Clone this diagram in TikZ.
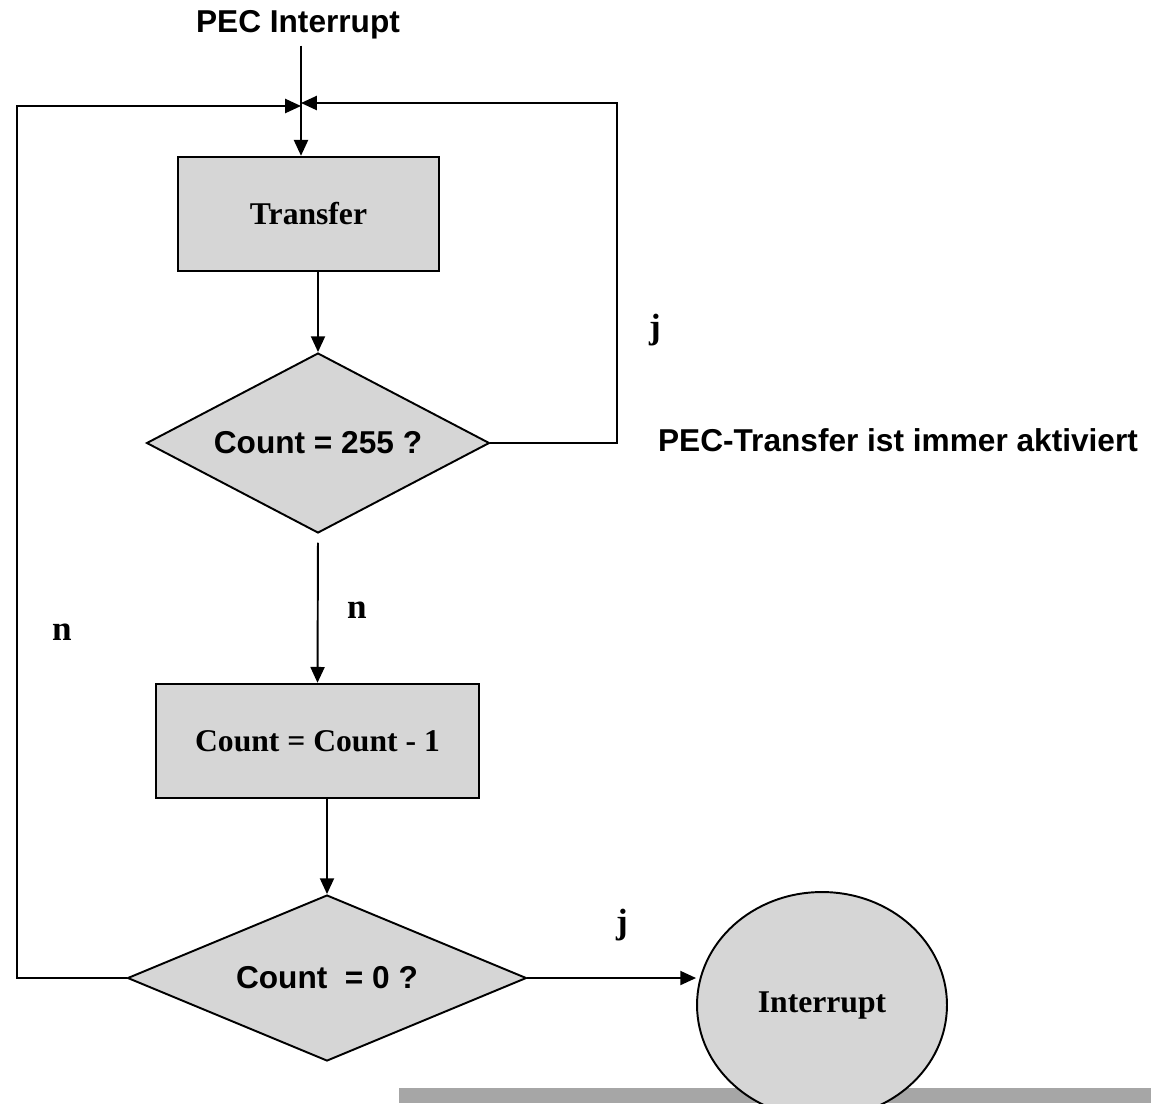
\documentclass[tikz,border=0pt]{standalone}
\usepackage{fontspec}
\setmainfont{Liberation Serif}
\setsansfont{Liberation Sans}
\usetikzlibrary{shapes.geometric,positioning,arrows.meta}
\definecolor{boxgray}{RGB}{214,214,214}
\definecolor{bargray}{RGB}{166,166,166}

\begin{document}
\begin{tikzpicture}[
    x=0.02cm, y=-0.02cm,
    procbox/.style={draw, line width=1.4pt, fill=boxgray, inner sep=0pt, font=\fontsize{18}{20}\selectfont\bfseries},
    decision/.style={draw, diamond, line width=1.1pt, fill=boxgray, inner sep=0pt, font=\sffamily\fontsize{18}{20}\selectfont\bfseries},
    endnode/.style={draw, ellipse, line width=1.1pt, fill=boxgray, inner sep=0pt, font=\fontsize{18}{20}\selectfont\bfseries},
    flow/.style={-{Triangle[length=9pt,width=8pt]}, line width=1.1pt},
    yesno/.style={font=\fontsize{20}{22}\selectfont\bfseries},
    note/.style={font=\sffamily\fontsize{18}{20}\selectfont\bfseries}
]
    \useasboundingbox (0,0) rectangle (1151,1103);

    % --- Bottom bar (behind the end node) ---
    \fill[bargray] (399,1088) rectangle (1151,1103);

    % --- Entry ---
    \node[note] (pec) at (298,25) {PEC Interrupt};
    \coordinate (joinL) at (301,106);
    \coordinate (joinR) at (301,103);

    % --- Steps ---
    \node[procbox, minimum width=5.22cm, minimum height=2.28cm] (transfer) at (308.5,214) {Transfer};
    \node[decision, aspect=1.9, minimum width=6.86cm, minimum height=3.6cm] (full) at (318,443) {Count = 255 ?};
    \node[procbox, minimum width=6.46cm, minimum height=2.28cm] (dec) at (317.5,741) {Count = Count - 1};
    \node[decision, aspect=2.4, minimum width=7.98cm, minimum height=3.32cm] (zero) at (327,978) {Count~~= 0 ?};
    \node[endnode, minimum width=5cm, minimum height=4.52cm] (irq) at (822,1005) {Interrupt};

    % --- Loop corners ---
    \coordinate (rtop) at (617,103);
    \coordinate (ltop) at (17,106);

    % --- Connectors ---
    \draw[flow] (pec.south -| joinL) -- (joinL |- transfer.north);
    \draw[flow] (transfer.south -| full.north) -- (full.north);
    \draw[flow, shorten <=5pt] (full.south) -- (dec.north);
    \draw[flow] (dec.south -| zero.north) -- (zero.north);
    \draw[flow] (zero.east) -- (irq.west |- zero.east);
    \draw[flow] (full.east) -| (rtop) -- (joinR);
    \draw[flow] (zero.west) -| (ltop) -- (joinL);

    % --- Labels ---
    \node[yesno] (jfull) at (655,330) {j};
    \node[note] (hint) at (898,440) {PEC-Transfer ist immer aktiviert};
    \node[yesno] (nfull) at (357,610) {n};
    \node[yesno] (nzero) at (62,632) {n};
    \node[yesno] (jzero) at (622,925) {j};
\end{tikzpicture}
\end{document}
